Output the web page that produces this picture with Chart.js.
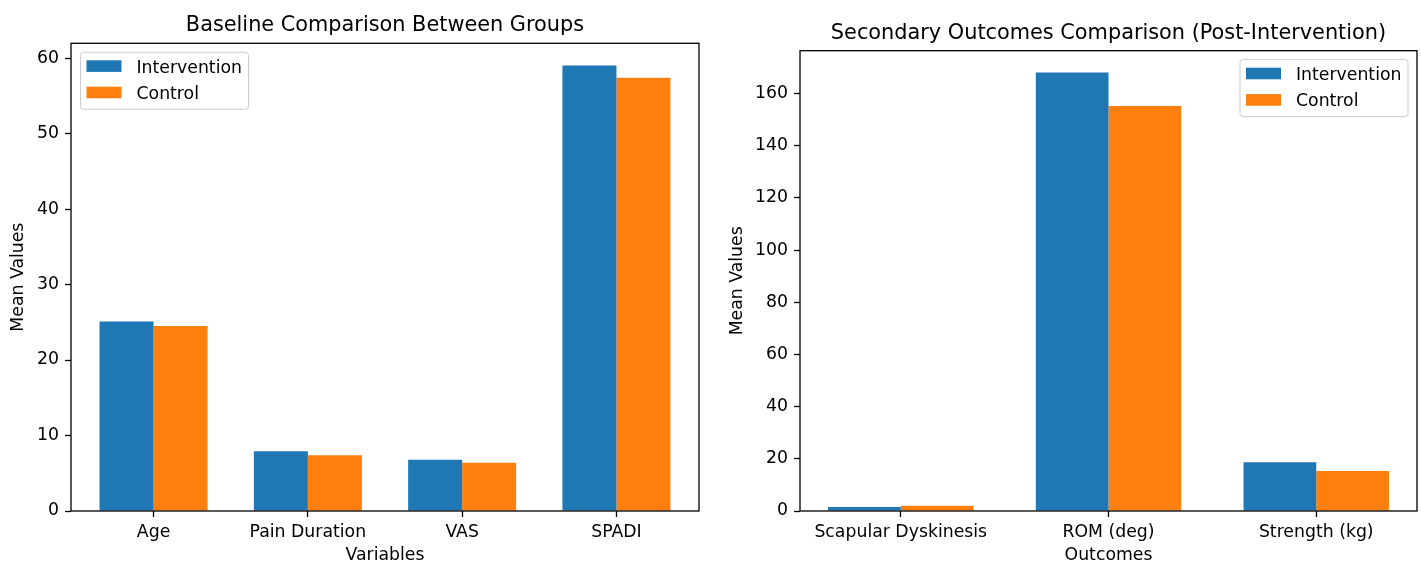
<!DOCTYPE html>
<html lang="en">
<head>
    <meta charset="UTF-8">
    <title>Baseline and Secondary Outcomes</title>
    <script src="https://cdn.jsdelivr.net/npm/chart.js"></script>
    <style>
        body { margin: 0; background: #fff; }
        canvas { position: absolute; top: 0; }
        #baseline-chart { left: 0; }
        #secondary-chart { left: 710px; }
    </style>
</head>
<body>
    <canvas id="baseline-chart" width="710" height="565"></canvas>
    <canvas id="secondary-chart" width="711" height="565"></canvas>

    <script>
        // Data
        const baselineCategories = ['Age', 'Pain Duration', 'VAS', 'SPADI'];
        const baselineIntervention = [25.1, 7.9, 6.8, 59.0];
        const baselineControl = [24.5, 7.4, 6.4, 57.4];
        const baselineTicks = [0, 10, 20, 30, 40, 50, 60];

        const secondaryCategories = ['Scapular Dyskinesis', 'ROM (deg)', 'Strength (kg)'];
        const secondaryIntervention = [1.5, 168.0, 18.7];
        const secondaryControl = [2.0, 155.2, 15.3];
        const secondaryTicks = [0, 20, 40, 60, 80, 100, 120, 140, 160];

        const BLUE = '#1f77b4';
        const ORANGE = '#ff7f0e';
        const FONT = 17.3;

        Chart.defaults.font.family = "'DejaVu Sans', sans-serif";
        Chart.defaults.font.size = FONT;
        Chart.defaults.color = '#000';

        // axes frame drawn over the bars, like matplotlib spines
        const framePlugin = {
            id: 'frame',
            afterDatasetsDraw(chart) {
                const { ctx, chartArea: a } = chart;
                ctx.save();
                ctx.strokeStyle = '#000';
                ctx.lineWidth = 1.3;
                ctx.strokeRect(a.left, a.top, a.right - a.left, a.bottom - a.top);
                ctx.restore();
            }
        };

        // legend box inside the plot area
        const legendPlugin = {
            id: 'boxLegend',
            afterDraw(chart, args, opts) {
                const { ctx, chartArea: a } = chart;
                const w = 168, h = 57;
                const x = opts.corner === 'right' ? a.right - 9 - w : a.left + 9.5;
                const y = a.top + 9;
                ctx.save();
                ctx.beginPath();
                ctx.roundRect(x, y, w, h, 3);
                ctx.fillStyle = 'rgba(255,255,255,0.8)';
                ctx.fill();
                ctx.strokeStyle = '#cccccc';
                ctx.lineWidth = 1;
                ctx.stroke();
                ctx.font = FONT + "px 'DejaVu Sans'";
                ctx.textBaseline = 'middle';
                ctx.textAlign = 'left';
                chart.data.datasets.forEach((ds, i) => {
                    const ry = y + 8 + i * 26.4;
                    ctx.fillStyle = ds.backgroundColor;
                    ctx.fillRect(x + 6, ry, 35, 11.6);
                    ctx.fillStyle = '#000';
                    ctx.fillText(ds.label, x + 56, ry + 7.8);
                });
                ctx.restore();
            }
        };

        function makeChart(id, opts) {
            const n = opts.categories.length;
            const half = 0.35;
            const margin = (n - 1 + 2 * half) * 0.05;
            const yMax = Math.max(...opts.intervention, ...opts.control) * 1.05;
            const toPoints = arr => arr.map((v, i) => ({ x: i, y: v }));

            return new Chart(document.getElementById(id), {
                type: 'bar',
                data: {
                    datasets: [
                        { label: 'Intervention', data: toPoints(opts.intervention), backgroundColor: BLUE },
                        { label: 'Control', data: toPoints(opts.control), backgroundColor: ORANGE }
                    ]
                },
                options: {
                    responsive: false,
                    animation: false,
                    devicePixelRatio: 1,
                    categoryPercentage: 0.7,
                    barPercentage: 1.0,
                    borderWidth: 0,
                    layout: { padding: { left: 0, right: opts.padRight, top: 0, bottom: 0 } },
                    plugins: {
                        legend: { display: false },
                        tooltip: { enabled: false },
                        boxLegend: { corner: opts.legendCorner },
                        title: {
                            display: true,
                            text: opts.title,
                            fullSize: false,
                            color: '#000',
                            font: { size: 20.83, weight: 'normal', lineHeight: 1.2 },
                            padding: { top: opts.titleTop, bottom: opts.titleBottom }
                        }
                    },
                    scales: {
                        x: {
                            type: 'linear',
                            min: -half - margin,
                            max: n - 1 + half + margin,
                            offset: false,
                            afterBuildTicks: s => { s.ticks = opts.categories.map((c, i) => ({ value: i })); },
                            afterFit: s => { s.height = 54; },
                            grid: { display: true, offset: false, drawOnChartArea: false, drawTicks: true, tickLength: 6, color: '#000', tickWidth: 1.3 },
                            border: { display: false },
                            ticks: {
                                padding: 5,
                                maxRotation: 0,
                                autoSkip: false,
                                color: '#000',
                                callback: v => opts.categories[v]
                            },
                            title: {
                                display: true,
                                text: opts.xTitle,
                                color: '#000',
                                font: { size: FONT, lineHeight: 1.1 },
                                padding: { top: 0, bottom: 0 }
                            }
                        },
                        y: {
                            min: 0,
                            max: yMax,
                            afterBuildTicks: s => { s.ticks = opts.ticks.map(v => ({ value: v })); },
                            afterFit: s => { s.width = opts.yWidth; },
                            grid: { display: true, drawOnChartArea: false, drawTicks: true, tickLength: 6, color: '#000', tickWidth: 1.3 },
                            border: { display: false },
                            ticks: { padding: 6, color: '#000' },
                            title: {
                                display: true,
                                text: 'Mean Values',
                                color: '#000',
                                font: { size: FONT, lineHeight: 1.2 },
                                padding: { top: opts.yTitlePad, bottom: 0 }
                            }
                        }
                    }
                },
                plugins: [framePlugin, legendPlugin]
            });
        }

        window.onload = function() {
            makeChart('baseline-chart', {
                categories: baselineCategories,
                intervention: baselineIntervention,
                control: baselineControl,
                ticks: baselineTicks,
                title: 'Baseline Comparison Between Groups',
                xTitle: 'Variables',
                titleTop: 13.3,
                titleBottom: 5,
                yWidth: 71,
                yTitlePad: 8.6,
                padRight: 11,
                legendCorner: 'left'
            });
            makeChart('secondary-chart', {
                categories: secondaryCategories,
                intervention: secondaryIntervention,
                control: secondaryControl,
                ticks: secondaryTicks,
                title: 'Secondary Outcomes Comparison (Post-Intervention)',
                xTitle: 'Outcomes',
                titleTop: 20.6,
                titleBottom: 5.1,
                yWidth: 90,
                yTitlePad: 17.6,
                padRight: 4,
                legendCorner: 'right'
            });
        };
    </script>
</body>
</html>
